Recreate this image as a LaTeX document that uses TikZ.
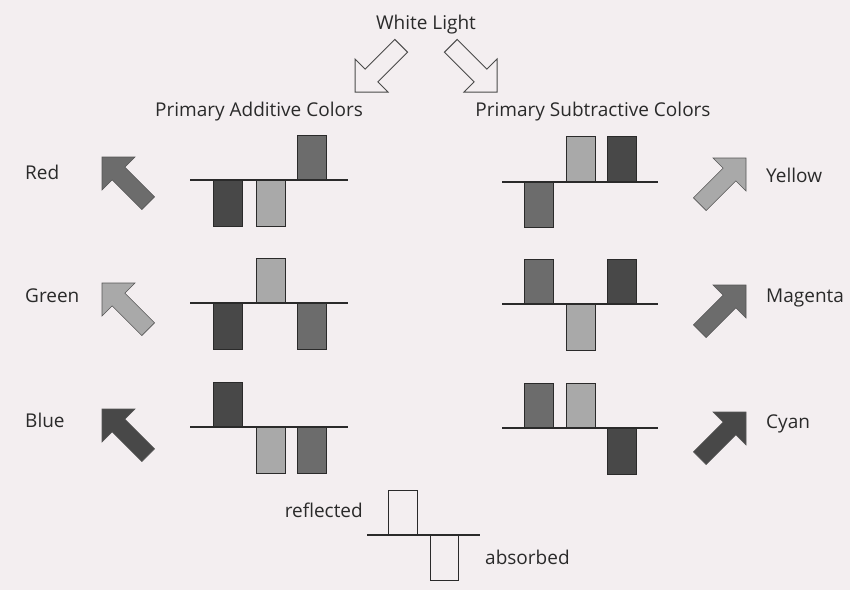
\documentclass[tikz,border=0pt]{standalone}
\usepackage{fontspec}
\setmainfont{Open Sans}
\definecolor{bgc}{HTML}{F3EEF0}
\definecolor{gdark}{HTML}{484848}
\definecolor{gmed}{HTML}{6C6C6C}
\definecolor{glight}{HTML}{A9A9A9}
\definecolor{ink}{HTML}{2A2A2A}
\tikzset{
  blockarr/.pic={\path[pic actions] (0,0)--(33,0)--(22.86,10.14)--(52.56,39.84)--(39.84,52.56)--(10.14,22.86)--(0,33)--cycle;},
  arrfill/.style={draw=ink!80, line width=0.6pt, line join=miter},
  whitearr/.style={draw=ink!85, fill=bgc, line width=1pt, line join=miter},
  barbox/.style={draw=ink, line width=0.8pt},
  axisline/.style={draw=ink, line width=1.4pt},
  lbl/.style={font=\fontsize{19}{22}\selectfont, text=ink, inner sep=0pt},
}
\newcommand\cbar[4]{\filldraw[barbox, fill=#4] (#1,#2) rectangle ++(29,#3);}
\begin{document}
\begin{tikzpicture}[x=1pt,y=-1pt]
\fill[bgc] (0,0) rectangle (850,590);
\useasboundingbox (0,0) rectangle (850,590);
% titles
\node[lbl] (wl) at (426,25) {White Light};
\node[lbl] (pac) at (259,112) {Primary Additive Colors};
\node[lbl] (psc) at (593,112) {Primary Subtractive Colors};
\pic[whitearr, yscale=-1] at (355,92) {blockarr};
\pic[whitearr, xscale=-1, yscale=-1] at (497,92) {blockarr};
% left labels
\node[lbl, anchor=west] (red) at (25,172) {Red};
\node[lbl, anchor=west] (green) at (25,296) {Green};
\node[lbl, anchor=west] (blue) at (25,420) {Blue};
\node[lbl, anchor=west] (yellow) at (766,175) {Yellow};
\node[lbl, anchor=west] (magenta) at (766,298) {Magenta};
\node[lbl, anchor=west] (cyan) at (766,424) {Cyan};
% left arrows
\pic[arrfill, fill=gmed] at (102,157) {blockarr};
\pic[arrfill, fill=glight] at (102,283) {blockarr};
\pic[arrfill, fill=gdark] at (102,409) {blockarr};
% right arrows
\pic[arrfill, fill=glight, xscale=-1] at (746,158) {blockarr};
\pic[arrfill, fill=gmed, xscale=-1] at (746,285) {blockarr};
\pic[arrfill, fill=gdark, xscale=-1] at (746,412) {blockarr};
% Red row
\cbar{213}{180}{46}{gdark}
\cbar{256}{180}{46}{glight}
\cbar{297}{180}{-45}{gmed}
\draw[axisline] (190,180) -- (348,180);
% Green row
\cbar{213}{303}{46}{gdark}
\cbar{256}{303}{-45}{glight}
\cbar{297}{303}{46}{gmed}
\draw[axisline] (190,303) -- (348,303);
% Blue row
\cbar{213}{427}{-45}{gdark}
\cbar{256}{427}{46}{glight}
\cbar{297}{427}{46}{gmed}
\draw[axisline] (190,427) -- (348,427);
% Yellow row
\cbar{524}{182}{45}{gmed}
\cbar{566}{182}{-46}{glight}
\cbar{607}{182}{-46}{gdark}
\draw[axisline] (502,182) -- (658,182);
% Magenta row
\cbar{524}{304}{-45}{gmed}
\cbar{566}{304}{46}{glight}
\cbar{607}{304}{-45}{gdark}
\draw[axisline] (502,304) -- (658,304);
% Cyan row
\cbar{524}{428}{-45}{gmed}
\cbar{566}{428}{-45}{glight}
\cbar{607}{428}{46}{gdark}
\draw[axisline] (502,428) -- (658,428);
% legend
\filldraw[barbox, fill=bgc] (388,535) rectangle (417,490);
\filldraw[barbox, fill=bgc] (430,535) rectangle (458,580);
\draw[axisline] (367,535) -- (480,535);
\node[lbl, anchor=east] (refl) at (363,510) {reflected};
\node[lbl, anchor=west] (abs) at (485,557) {absorbed};
\end{tikzpicture}
\end{document}
